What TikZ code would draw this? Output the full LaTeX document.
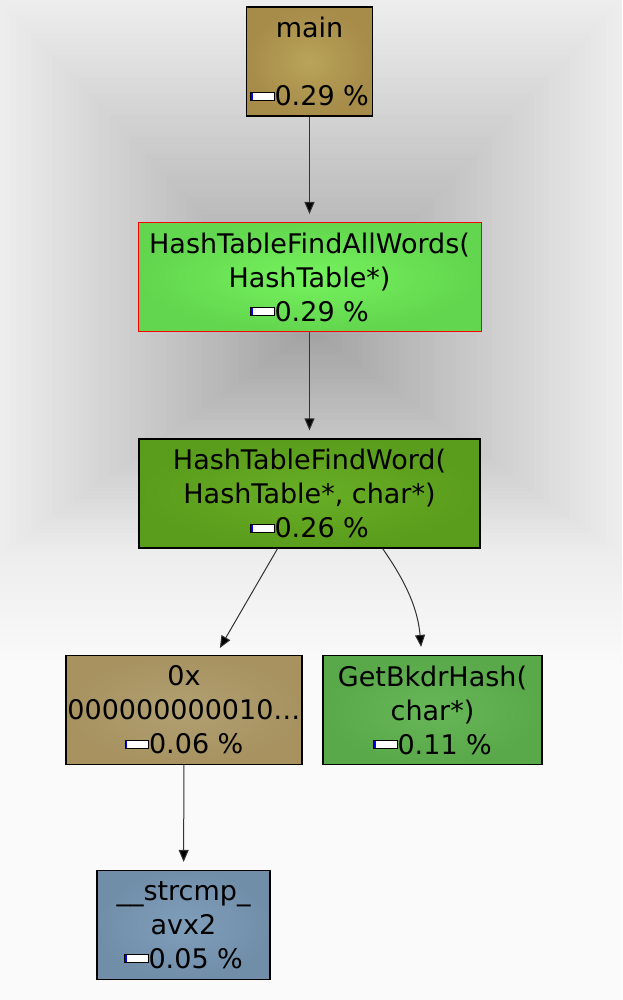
\documentclass[tikz,border=0pt]{standalone}
\usepackage{fontspec}
\setmainfont{DejaVu Sans}
\usetikzlibrary{arrows.meta}
\definecolor{maintan}{HTML}{A68B49}
\definecolor{maintanl}{HTML}{B9A359}
\definecolor{allgreen}{HTML}{62D64E}
\definecolor{allgreenl}{HTML}{76F25E}
\definecolor{fwgreen}{HTML}{5A9C1C}
\definecolor{fwgreenl}{HTML}{68AE25}
\definecolor{hextan}{HTML}{A79260}
\definecolor{hextanl}{HTML}{B1A072}
\definecolor{bkgreen}{HTML}{59A849}
\definecolor{bkgreenl}{HTML}{67B657}
\definecolor{cmpblue}{HTML}{718EA9}
\definecolor{cmpbluel}{HTML}{7F9EBA}
\definecolor{edgegray}{HTML}{333333}
\newcommand{\pct}[1]{\raisebox{6pt}{\setlength{\fboxsep}{0pt}\setlength{\fboxrule}{1pt}\fcolorbox{black}{white}{\textcolor{blue}{\rule{1.5pt}{7pt}}\hspace{21pt}}}#1 \%}

\begin{document}
\begin{tikzpicture}[x=1pt,y=1pt,
  fn/.style={draw=black,line width=1.2pt,align=center,minimum height=109pt,inner sep=0pt,font=\fontsize{27}{34}\selectfont},
  call/.style={draw=edgegray,line width=1pt,-{Triangle[length=12pt,width=10pt,fill=black]},shorten >=8pt}]
\useasboundingbox (0,0) rectangle (622,-1000);
\fill[black!2] (0,0) rectangle (622,-1000);
\shade[top color=black!7,bottom color=black!2] (0,-554) rectangle (622,-665);
\foreach \i [evaluate=\i as \f using 1-\i/60, evaluate=\i as \g using 7+\i/2] in {0,...,59}
  \fill[black!\g] (311-311*\f,-330+330*\f) rectangle (311+311*\f,-330-225*\f);
\node[fn,inner color=maintanl,outer color=maintan,minimum width=126pt] (main) at (309.5,-61.5) {main\\\strut\\\pct{0.29}};
\node[fn,draw=red,line width=1pt,inner color=allgreenl,outer color=allgreen,minimum width=343pt] (allw) at (309.5,-277) {HashTableFindAllWords(\\HashTable*)\\\pct{0.29}};
\node[fn,inner color=fwgreenl,outer color=fwgreen,minimum width=341pt] (fw) at (309.5,-493.5) {HashTableFindWord(\\HashTable*, char*)\\\pct{0.26}};
\node[fn,inner color=hextanl,outer color=hextan,minimum width=236pt] (hex) at (184,-710) {0x\\000000000010…\\\pct{0.06}};
\node[fn,inner color=bkgreenl,outer color=bkgreen,minimum width=219pt] (bkdr) at (432.5,-710) {GetBkdrHash(\\char*)\\\pct{0.11}};
\node[fn,inner color=cmpbluel,outer color=cmpblue,minimum width=173pt] (strcmp) at (183.5,-925) {\_\_strcmp\_\\avx2\\\pct{0.05}};
\draw[call] (main) -- (allw);
\draw[call] (allw) -- (fw);
\draw[call] (fw) -- (hex);
\draw[call] (fw.-37.7) to[out=-55,in=95] (bkdr.101);
\draw[call] (hex) -- (strcmp);
\end{tikzpicture}
\end{document}
